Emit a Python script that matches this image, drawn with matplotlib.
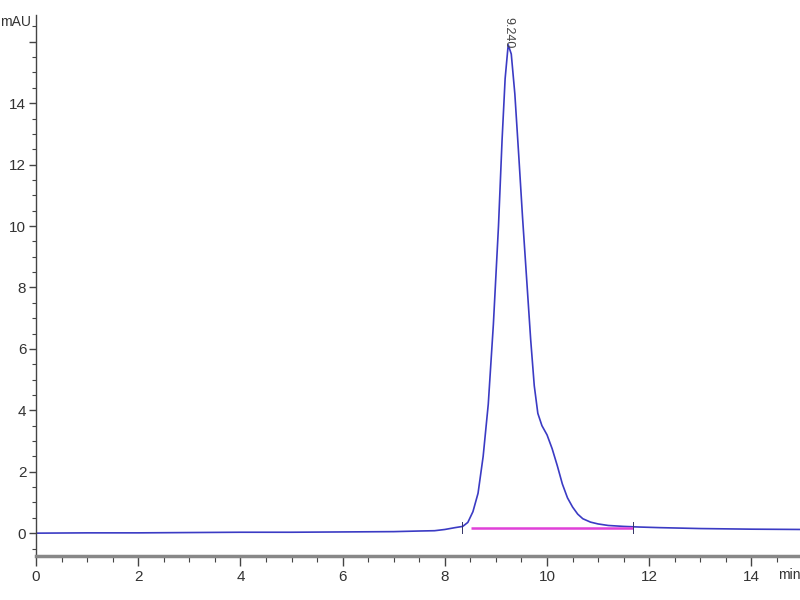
import matplotlib
matplotlib.use("Agg")
import matplotlib.pyplot as plt
from matplotlib.ticker import MultipleLocator, FuncFormatter

# chromatogram trace (min, mAU)
time_min = [0, 1, 2, 3, 4, 5, 6, 7, 7.5, 7.8, 8.0, 8.2, 8.35, 8.45, 8.55,
            8.65, 8.75, 8.85, 8.95, 9.05, 9.12, 9.18, 9.24, 9.30, 9.37,
            9.45, 9.52, 9.60, 9.68, 9.75, 9.82, 9.90, 10.0, 10.1, 10.2,
            10.3, 10.4, 10.5, 10.6, 10.7, 10.85, 11.0, 11.2, 11.5, 11.8,
            12.2, 13, 14, 15]
signal_mau = [0.0, 0.01, 0.01, 0.02, 0.03, 0.03, 0.04, 0.05, 0.07, 0.08,
              0.12, 0.18, 0.22, 0.35, 0.7, 1.3, 2.5, 4.2, 6.8, 10.0, 12.8,
              14.8, 15.9, 15.6, 14.3, 12.2, 10.3, 8.3, 6.3, 4.8, 3.9, 3.5,
              3.2, 2.75, 2.2, 1.6, 1.15, 0.85, 0.62, 0.47, 0.36, 0.3, 0.25,
              0.22, 0.2, 0.18, 0.15, 0.13, 0.12]

# integration baseline
base_t = [8.52, 11.68]
base_y = [0.17, 0.17]
base_marks = [8.34, 11.68]

peak_rt = 9.24
peak_label = "9.240"

plt.rcParams["font.family"] = ["Liberation Sans Narrow", "Liberation Sans", "DejaVu Sans"]

fig = plt.figure(figsize=(8, 6), dpi=100)
ax = fig.add_axes([0.045, 0.073, 0.955, 0.902])

ax.plot(time_min, signal_mau, color="#3b3bc4", lw=1.2)
ax.plot(base_t, base_y, color="#e040d8", lw=1.8, solid_capstyle="butt")
for m in base_marks:
    ax.plot([m, m], [0.0, 0.35], color="#333366", lw=0.7)

ax.text(peak_rt, 16.3, peak_label, rotation=-90, ha="center", va="center",
        fontsize=9, color="#444444")

ax.set_xlim(0, 14.95)
ax.set_ylim(-0.75, 16.87)

ax.xaxis.set_major_locator(MultipleLocator(2))
ax.xaxis.set_minor_locator(MultipleLocator(0.5))
ax.yaxis.set_major_locator(MultipleLocator(2))
ax.yaxis.set_minor_locator(MultipleLocator(0.5))
ax.yaxis.set_major_formatter(FuncFormatter(lambda v, p: "" if v > 15 else f"{v:.0f}"))

for s in ["top", "right"]:
    ax.spines[s].set_visible(False)
ax.spines["bottom"].set_color("#888888")
ax.spines["bottom"].set_linewidth(2.5)
ax.spines["left"].set_color("#444444")
ax.spines["left"].set_linewidth(1.0)

ax.tick_params(axis="x", which="major", length=7, width=1.0, color="#444444",
               labelsize=11, labelcolor="#333333", pad=3)
ax.tick_params(axis="x", which="minor", length=4, width=0.8, color="#444444")
ax.tick_params(axis="y", which="major", length=5, width=1.0, color="#444444",
               labelsize=11, labelcolor="#333333", pad=2)
ax.tick_params(axis="y", which="minor", length=3, width=0.8, color="#444444")

fig.text(0.0, 0.963, "mAU", fontsize=10, color="#333333", ha="left", va="center")
fig.text(0.973, 0.042, "min", fontsize=10, color="#333333", ha="left", va="center")

fig.savefig("out.png", dpi=100)
